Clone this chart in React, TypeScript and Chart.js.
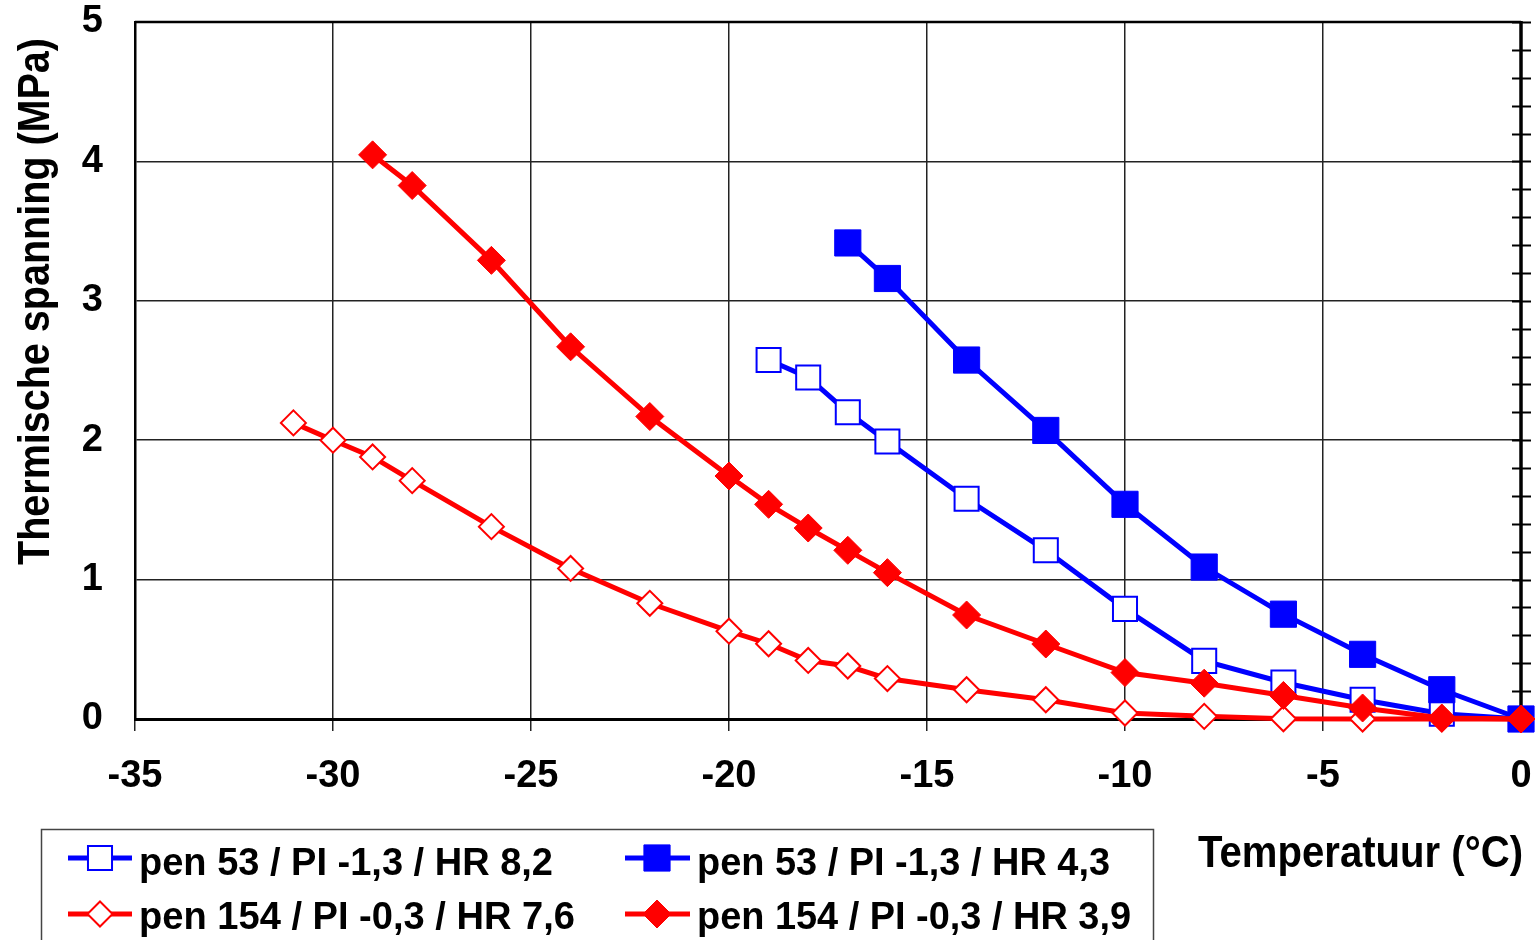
import React, { useEffect, useRef } from "react";
import { Chart, registerables } from "chart.js";

Chart.register(...registerables);

// Temperature (°C) per series
const tempOpenBlue = [-19, -18, -17, -16, -14, -12, -10, -8, -6, -4, -2, 0];
const stressOpenBlue = [2.575, 2.45, 2.2, 1.99, 1.58, 1.21, 0.79, 0.417, 0.262, 0.138, 0.038, 0];

const tempFilledBlue = [-17, -16, -14, -12, -10, -8, -6, -4, -2, 0];
const stressFilledBlue = [3.415, 3.16, 2.575, 2.07, 1.54, 1.09, 0.752, 0.464, 0.21, 0];

const tempOpenRed = [-31, -30, -29, -28, -26, -24, -22, -20, -19, -18, -17, -16, -14, -12, -10, -8, -6, -4, -2, 0];
const stressOpenRed = [2.124, 2.0, 1.88, 1.71, 1.38, 1.08, 0.83, 0.63, 0.54, 0.42, 0.38, 0.29, 0.21, 0.138, 0.043, 0.019, 0.002, 0, 0, 0];

const tempFilledRed = [-29, -28, -26, -24, -22, -20, -19, -18, -17, -16, -14, -12, -10, -8, -6, -4, -2, 0];
const stressFilledRed = [4.047, 3.827, 3.29, 2.67, 2.17, 1.743, 1.54, 1.37, 1.21, 1.05, 0.746, 0.538, 0.333, 0.257, 0.169, 0.079, 0.007, 0];

const seriesLabels = [
  "pen 53 / PI -1,3 / HR 8,2",
  "pen 53 / PI -1,3 / HR 4,3",
  "pen 154 / PI -0,3 / HR 7,6",
  "pen 154 / PI -0,3 / HR 3,9",
];

const xTitle = "Temperatuur (°C)";
const yTitle = "Thermische spanning (MPa)";

const BLUE = "#0000ff";
const RED = "#ff0000";
const FONT = "'Liberation Sans', Arial, sans-serif";

const zip = (xs: number[], ys: number[]) => xs.map((x, i) => ({ x, y: ys[i] }));

const framePlugin = {
  id: "frame",
  beforeDatasetsDraw(chart: any) {
    const { ctx, chartArea } = chart;
    const { left, right, top, bottom } = chartArea;
    ctx.save();
    ctx.strokeStyle = "#000";
    ctx.lineWidth = 2.5;
    ctx.beginPath();
    ctx.moveTo(left, top);
    ctx.lineTo(right, top);
    ctx.stroke();
    ctx.lineWidth = 3.5;
    ctx.beginPath();
    ctx.moveTo(right, top - 1);
    ctx.lineTo(right, bottom);
    ctx.stroke();
    // minor ticks on right edge
    const ys = chart.scales.y;
    ctx.lineWidth = 2;
    for (let i = 0; i <= 25; i++) {
      const py = Math.round(ys.getPixelForValue(i * 0.2)) + 0.5;
      ctx.beginPath();
      ctx.moveTo(right - 9, py);
      ctx.lineTo(right + 10, py);
      ctx.stroke();
    }
    ctx.restore();
  },
};

function drawMarker(ctx: CanvasRenderingContext2D, ds: any, cx: number, cy: number) {
  const r = ds.pointRadius;
  ctx.save();
  ctx.fillStyle = ds.pointBackgroundColor;
  ctx.strokeStyle = ds.pointBorderColor;
  ctx.lineWidth = ds.pointBorderWidth;
  ctx.beginPath();
  if (ds.pointStyle === "rect") {
    const h = r * Math.SQRT1_2;
    ctx.rect(cx - h, cy - h, 2 * h, 2 * h);
  } else {
    ctx.moveTo(cx, cy - r);
    ctx.lineTo(cx + r, cy);
    ctx.lineTo(cx, cy + r);
    ctx.lineTo(cx - r, cy);
    ctx.closePath();
  }
  ctx.fill();
  ctx.stroke();
  ctx.restore();
}

function fitText(ctx: CanvasRenderingContext2D, text: string, x: number, y: number, width: number) {
  const w = ctx.measureText(text).width;
  ctx.save();
  ctx.translate(x, y);
  ctx.scale(width / w, 1);
  ctx.fillText(text, 0, 0);
  ctx.restore();
}

const annotPlugin = {
  id: "annot",
  afterDraw(chart: any) {
    const ctx: CanvasRenderingContext2D = chart.ctx;
    const dsets = chart.data.datasets;
    ctx.save();
    // legend box
    ctx.strokeStyle = "#444";
    ctx.lineWidth = 1.5;
    ctx.strokeRect(41.5, 829.5, 1112, 130);
    const cols = [
      { lx0: 68, lx1: 132, mx: 100, tx: 139 },
      { lx0: 625, lx1: 690, mx: 657, tx: 697 },
    ];
    const rows = [{ cy: 858, base: 875 }, { cy: 914, base: 929 }];
    const widths = [414, 413, 436, 434];
    ctx.fillStyle = "#000";
    ctx.font = `bold 38px ${FONT}`;
    ctx.textAlign = "left";
    ctx.textBaseline = "alphabetic";
    for (let i = 0; i < 4; i++) {
      const c = cols[i % 2];
      const r = rows[Math.floor(i / 2)];
      const ds = dsets[i];
      ctx.strokeStyle = ds.borderColor;
      ctx.lineWidth = 5;
      ctx.beginPath();
      ctx.moveTo(c.lx0, r.cy);
      ctx.lineTo(c.lx1, r.cy);
      ctx.stroke();
      drawMarker(ctx, ds, c.mx, r.cy);
      ctx.fillStyle = "#000";
      fitText(ctx, seriesLabels[i], c.tx, r.base, widths[i]);
    }
    // x title
    ctx.font = `bold 44px ${FONT}`;
    fitText(ctx, xTitle, 1198, 867, 325);
    // y title
    ctx.save();
    ctx.translate(49, 565);
    ctx.rotate(-Math.PI / 2);
    ctx.font = `bold 44px ${FONT}`;
    fitText(ctx, yTitle, 0, 0, 527);
    ctx.restore();
    ctx.restore();
  },
};

export default function App() {
  const ref = useRef<HTMLCanvasElement>(null);
  useEffect(() => {
    const mk = (
      label: string,
      xs: number[],
      ys: number[],
      color: string,
      style: string,
      radius: number,
      filled: boolean,
      order: number
    ) => ({
      label,
      data: zip(xs, ys),
      borderColor: color,
      backgroundColor: color,
      borderWidth: 5,
      pointStyle: style,
      pointRadius: radius,
      pointHoverRadius: radius,
      pointBackgroundColor: filled ? color : "#ffffff",
      pointBorderColor: color,
      pointBorderWidth: filled ? 1 : 2,
      tension: 0,
      clip: false,
      order,
    });
    const chart = new Chart(ref.current!, {
      type: "line",
      data: {
        datasets: [
          mk(seriesLabels[0], tempOpenBlue, stressOpenBlue, BLUE, "rect", 17, false, 3),
          mk(seriesLabels[1], tempFilledBlue, stressFilledBlue, BLUE, "rect", 18.5, true, 2),
          mk(seriesLabels[2], tempOpenRed, stressOpenRed, RED, "rectRot", 12.5, false, 1),
          mk(seriesLabels[3], tempFilledRed, stressFilledRed, RED, "rectRot", 14, true, 0),
        ] as any,
      },
      options: {
        responsive: false,
        animation: false,
        devicePixelRatio: 1,
        layout: { autoPadding: false, padding: { top: 22, right: 16, left: 0, bottom: 0 } },
        plugins: {
          legend: { display: false },
          tooltip: { enabled: false },
          title: { display: false },
        },
        scales: {
          x: {
            type: "linear",
            min: -35,
            max: 0,
            ticks: {
              stepSize: 5,
              color: "#000",
              font: { family: FONT, size: 38, weight: "bold" },
              padding: 23,
            },
            grid: { color: "#222", lineWidth: 1.5, drawTicks: true, tickLength: 12, tickColor: "#222" },
            border: { display: true, color: "#000", width: 3 },
            afterFit(scale: any) {
              scale.height = 221;
              scale.paddingLeft = 0;
              scale.paddingRight = 0;
              scale.paddingTop = 0;
              scale.paddingBottom = 0;
            },
          },
          y: {
            type: "linear",
            min: 0,
            max: 5,
            ticks: {
              stepSize: 1,
              color: "#000",
              font: { family: FONT, size: 38, weight: "bold" },
              padding: 32,
            },
            grid: { color: "#222", lineWidth: 1.5, drawTicks: false },
            border: { display: true, color: "#000", width: 2.5 },
            afterFit(scale: any) {
              scale.width = 135;
              scale.paddingLeft = 0;
              scale.paddingRight = 0;
              scale.paddingTop = 0;
              scale.paddingBottom = 0;
            },
          },
        },
      } as any,
      plugins: [framePlugin, annotPlugin],
    });
    return () => chart.destroy();
  }, []);
  return (
    <div style={{ position: "fixed", left: 0, top: 0, width: 1537, height: 940, background: "#fff" }}>
      <canvas ref={ref} width={1537} height={940} style={{ width: 1537, height: 940, display: "block" }} />
    </div>
  );
}
